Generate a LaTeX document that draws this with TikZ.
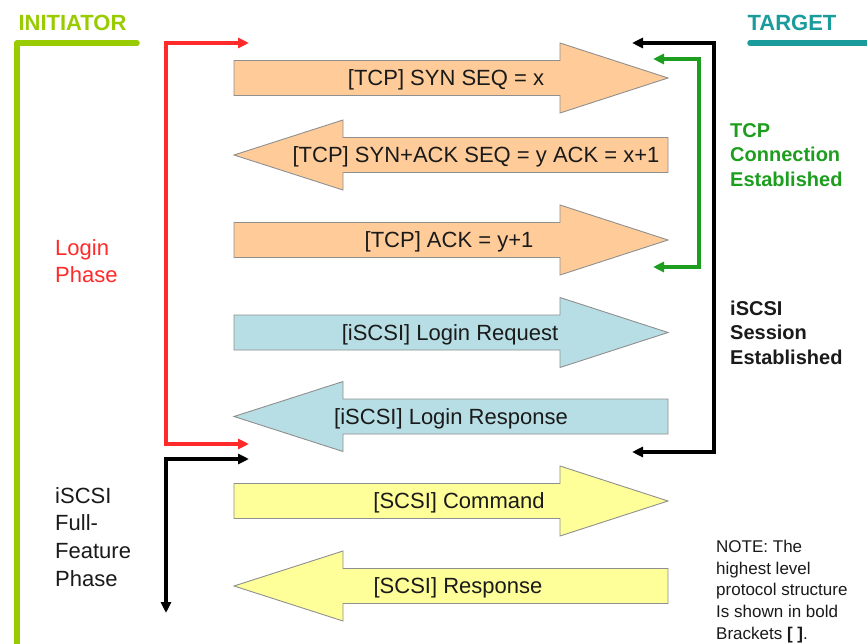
\documentclass[tikz,border=0pt]{standalone}
\usepackage{fontspec}
\setmainfont{Liberation Sans}
\usetikzlibrary{arrows.meta}
\definecolor{peach}{HTML}{FFCC99}
\definecolor{iscsiblue}{HTML}{B7DEE4}
\definecolor{scsiyellow}{HTML}{FFFF99}
\definecolor{initgreen}{HTML}{99CC00}
\definecolor{targetteal}{HTML}{1A9C9C}
\definecolor{tcpgreen}{HTML}{1E9E1E}
\definecolor{phasered}{HTML}{FF2A2A}
\definecolor{shapeedge}{HTML}{8F8F8F}
\definecolor{inktext}{HTML}{1A1A1A}
\begin{document}
\begin{tikzpicture}[x=1pt,y=-1pt,
  pics/rmsg/.style={code={\path[pic actions] (234,-17.5) -- (560,-17.5) -- (560,-35) -- (668,0) -- (560,35) -- (560,17.5) -- (234,17.5) -- cycle;}},
  pics/lmsg/.style={code={\path[pic actions] (668,-17.5) -- (343,-17.5) -- (343,-35) -- (234,0) -- (343,35) -- (343,17.5) -- (668,17.5) -- cycle;}},
  msg/.style={draw=shapeedge, line width=0.9pt},
  lbl/.style={font=\fontsize{22}{26}\selectfont, text=inktext, inner sep=0pt},
  side/.style={font=\fontsize{22}{27.7}\selectfont, align=left, anchor=north west, inner sep=0pt},
  state/.style={font=\bfseries\fontsize{20}{24.7}\selectfont, align=left, anchor=north west, inner sep=0pt},
  head/.style={font=\bfseries\fontsize{22}{26}\selectfont, inner sep=0pt},
  brk/.style={line width=3.2pt, arrows={Triangle[length=11pt,width=10pt]-Triangle[length=11pt,width=10pt]}}
]
\useasboundingbox[fill=white] (0,0) rectangle (867,644);

% side headers
\node[head, text=initgreen] (init) at (72.5,23) {INITIATOR};
\node[head, text=targetteal] (targ) at (792,23) {TARGET};
\draw[initgreen, line width=5.5pt, line cap=round, line join=round] (137,43) -- (17,43) -- (17,650);
\draw[targetteal, line width=5.5pt, line cap=round] (750,43) -- (875,43);

% message arrows
\pic[msg, fill=peach] at (0,78) {rmsg};
\pic[msg, fill=peach] at (0,155) {lmsg};
\pic[msg, fill=peach] at (0,240) {rmsg};
\pic[msg, fill=iscsiblue] at (0,332.5) {rmsg};
\pic[msg, fill=iscsiblue] at (0,416.5) {lmsg};
\pic[msg, fill=scsiyellow] at (0,501) {rmsg};
\pic[msg, fill=scsiyellow] at (0,586) {lmsg};

\node[lbl] (syn) at (446,80) {[TCP] SYN SEQ = x};
\node[lbl] (synack) at (476,157) {[TCP] SYN+ACK SEQ = y ACK = x+1};
\node[lbl] (ack) at (449,242) {[TCP] ACK = y+1};
\node[lbl] (lreq) at (450,334.5) {[iSCSI] Login Request};
\node[lbl] (lresp) at (451,418.5) {[iSCSI] Login Response};
\node[lbl] (cmd) at (459,503) {[SCSI] Command};
\node[lbl] (resp) at (458,588) {[SCSI] Response};

% phase brackets
\coordinate (loginTop) at (249,43);
\coordinate (loginBot) at (249,444);
\draw[brk, phasered] (loginTop) -- ++(-83,0) |- (loginBot);

\coordinate (ffTop) at (249,459);
\coordinate (ffEnd) at (166,613);
\draw[brk, black] (ffTop) -- ++(-83,0) -- (ffEnd);

\coordinate (sessTop) at (632,43);
\coordinate (sessBot) at (632,452);
\draw[brk, black] (sessTop) -- ++(82,0) |- (sessBot);

\coordinate (tcpTop) at (653,59);
\coordinate (tcpBot) at (653,267);
\draw[brk, tcpgreen] (tcpTop) -- ++(46,0) |- (tcpBot);

% phase and state labels
\node[side, text=phasered] (login) at (55,239) {Login\\Phase};
\node[side, text=inktext] (ffp) at (55,487) {iSCSI\\Full-\\Feature\\Phase};
\node[state, text=tcpgreen] (tcpest) at (730,123) {TCP\\Connection\\Established};
\node[state, text=inktext] (sessest) at (730,300.5) {iSCSI\\Session\\Established};

% note
\node[font=\fontsize{17}{21.7}\selectfont, text=inktext, align=left, anchor=north west, inner sep=0pt] (note) at (716,540)
  {NOTE: The\\highest level\\protocol structure\\Is shown in bold\\Brackets \textbf{[ ]}.};
\end{tikzpicture}
\end{document}
